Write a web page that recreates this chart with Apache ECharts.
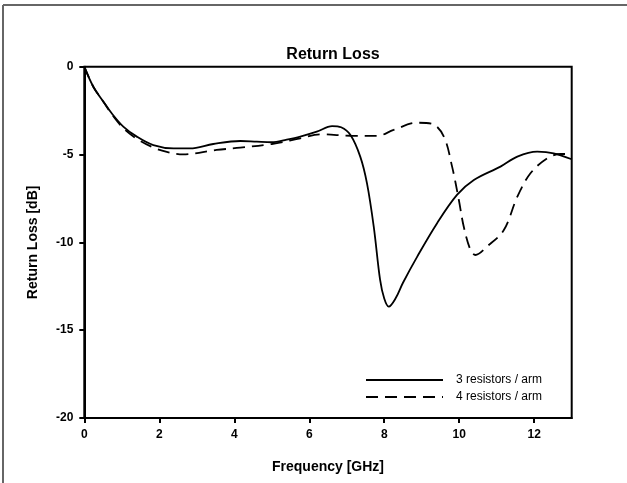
<!DOCTYPE html>
<html><head><meta charset="utf-8">
<script src="https://cdn.jsdelivr.net/npm/echarts@6/dist/echarts.min.js"></script>
<style>html,body{margin:0;padding:0;background:#fff}#c{width:627px;height:483px}</style>
</head><body><div id="c"></div>
<script>
const xTicks = [0, 2, 4, 6, 8, 10, 12];
const yTicks = [0, -5, -10, -15, -20];
const freq3 = [0, 0.24, 0.51, 0.73, 1.04, 1.4, 1.84, 2.38, 2.82, 3.44, 4.16, 4.6, 5.0, 5.4, 5.76, 6.2, 6.61, 6.85, 7.1, 7.36, 7.54, 7.72, 7.89, 8.0, 8.12, 8.3, 8.5, 8.88, 9.41, 9.94, 10.39, 11.1, 11.55, 12.08, 12.52, 13.0];
const rl3 = [0, -1.14, -1.99, -2.65, -3.41, -3.98, -4.46, -4.65, -4.65, -4.4, -4.23, -4.27, -4.3, -4.15, -3.98, -3.7, -3.38, -3.45, -3.89, -5.12, -6.64, -9.1, -12.14, -13.2, -13.66, -13.2, -12.3, -10.81, -8.91, -7.3, -6.45, -5.69, -5.12, -4.84, -4.93, -5.27];
const freq4 = [0, 0.24, 0.51, 0.73, 1.04, 1.4, 1.84, 2.2, 2.64, 3.53, 4.16, 5.0, 5.76, 6.3, 7.1, 7.81, 8.25, 8.88, 9.28, 9.59, 9.81, 9.99, 10.12, 10.3, 10.43, 10.74, 11.19, 11.55, 11.9, 12.35, 12.7, 13.0];
const rl4 = [0, -1.14, -2.0, -2.7, -3.5, -4.1, -4.6, -4.85, -4.99, -4.74, -4.61, -4.4, -4.08, -3.85, -3.93, -3.94, -3.6, -3.19, -3.26, -3.98, -5.69, -7.59, -9.1, -10.43, -10.72, -10.24, -9.3, -7.4, -6.07, -5.21, -4.97, -4.97];
const seriesNames = ['3 resistors / arm', '4 resistors / arm'];

const zip = (a, b) => a.map((v, i) => [v, b[i]]);
const ch = echarts.init(document.getElementById('c'), null, {renderer: 'canvas'});
const font = 'Arial, "Liberation Sans", sans-serif';
ch.setOption({
  animation: false,
  backgroundColor: '#fff',
  title: {text: 'Return Loss', left: 328, textAlign: 'center', top: 42,
    textStyle: {fontFamily: font, fontSize: 16, fontWeight: 'bold', color: '#000'}},
  grid: {left: 84.3, right: 55.3, top: 66.7, bottom: 65, show: true, borderColor: '#000', borderWidth: 2, containLabel: false},
  legend: {orient: 'vertical', left: 360, top: 369, itemWidth: 77, itemHeight: 12, itemGap: 5,
    data: seriesNames, itemStyle: {opacity: 0},
    textStyle: {fontFamily: font, fontSize: 12, color: '#000', padding: [0, 0, 0, 8]}},
  xAxis: {type: 'value', min: 0, max: 13, interval: 2,
    name: 'Frequency [GHz]', nameLocation: 'middle', nameGap: 42,
    nameTextStyle: {fontFamily: font, fontSize: 14, fontWeight: 'bold', color: '#000'},
    axisLine: {show: true, onZero: false, lineStyle: {color: '#000', width: 2}},
    axisTick: {show: true, inside: false, length: 5, customValues: xTicks, lineStyle: {color: '#000', width: 2}},
    axisLabel: {margin: 11, fontFamily: font, fontSize: 12, fontWeight: 'bold', color: '#000',
      customValues: xTicks, formatter: v => String(v)},
    splitLine: {show: false}},
  yAxis: {type: 'value', min: -20, max: 0, interval: 5,
    name: 'Return Loss [dB]', nameLocation: 'middle', nameGap: 44, nameRotate: 90,
    nameTextStyle: {fontFamily: font, fontSize: 14, fontWeight: 'bold', color: '#000'},
    axisLine: {show: true, onZero: false, lineStyle: {color: '#000', width: 2}},
    axisTick: {show: true, inside: false, length: 5, customValues: yTicks, lineStyle: {color: '#000', width: 2}},
    axisLabel: {margin: 11, fontFamily: font, fontSize: 12, fontWeight: 'bold', color: '#000',
      customValues: yTicks, formatter: v => String(v)},
    splitLine: {show: false}},
  series: [
    {name: seriesNames[0], type: 'line', data: zip(freq3, rl3), symbol: 'none', smooth: 0.35,
      lineStyle: {color: '#000', width: 1.8}, itemStyle: {color: '#000'}},
    {name: seriesNames[1], type: 'line', data: zip(freq4, rl4), symbol: 'none', smooth: 0.35,
      lineStyle: {color: '#000', width: 1.8, type: [12, 7]}, itemStyle: {color: '#000'}}
  ],
  graphic: [
    {type: 'line', shape: {x1: 3, y1: 5, x2: 3, y2: 483}, style: {stroke: '#666', lineWidth: 2}},
    {type: 'line', shape: {x1: 3, y1: 5, x2: 627, y2: 5}, style: {stroke: '#666', lineWidth: 2}}
  ]
});
</script></body></html>
